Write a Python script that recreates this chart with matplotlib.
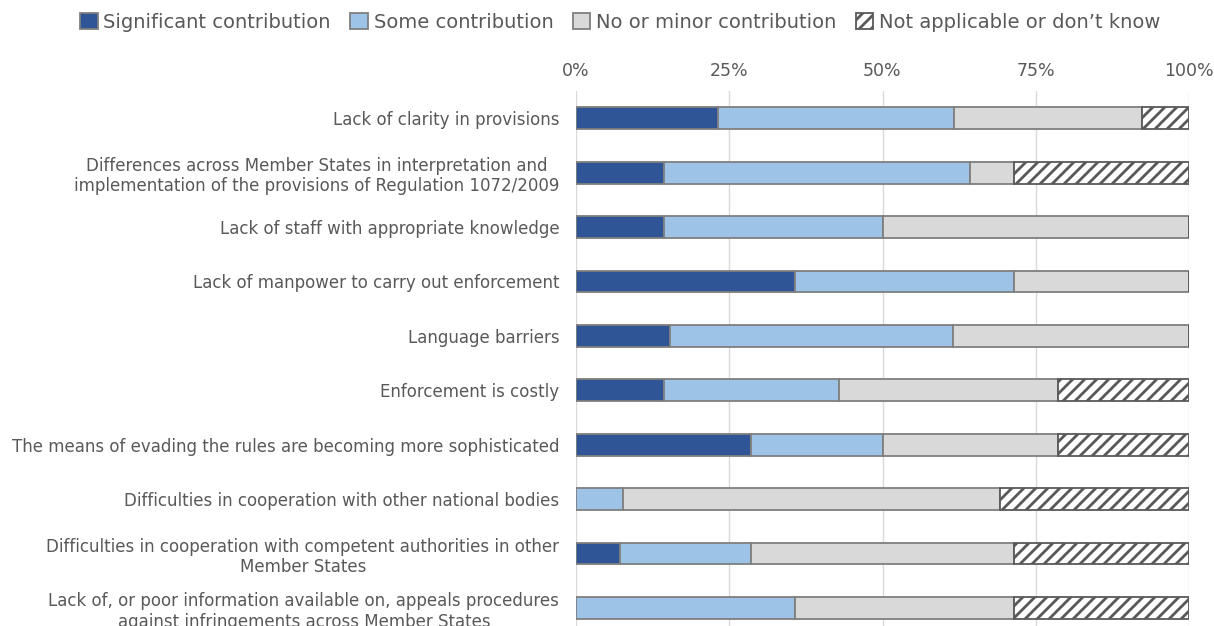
import numpy as np
import matplotlib
matplotlib.use("Agg")
import matplotlib.pyplot as plt
from matplotlib.patches import Patch

categories = [
    "Lack of clarity in provisions",
    "Differences across Member States in interpretation and\nimplementation of the provisions of Regulation 1072/2009",
    "Lack of staff with appropriate knowledge",
    "Lack of manpower to carry out enforcement",
    "Language barriers",
    "Enforcement is costly",
    "The means of evading the rules are becoming more sophisticated",
    "Difficulties in cooperation with other national bodies",
    "Difficulties in cooperation with competent authorities in other\nMember States",
    "Lack of, or poor information available on, appeals procedures\nagainst infringements across Member States",
]

series_names = ["Significant contribution", "Some contribution",
                "No or minor contribution", "Not applicable or don\u2019t know"]

# shares in percent
significant = [23.1, 14.3, 14.3, 35.7, 15.4, 14.3, 28.6, 0.0, 7.1, 0.0]
some = [38.5, 50.0, 35.7, 35.7, 46.1, 28.6, 21.4, 7.7, 21.5, 35.7]
minor = [30.8, 7.1, 50.0, 28.6, 38.5, 35.7, 28.6, 61.5, 42.8, 35.7]
not_applicable = [7.6, 28.6, 0.0, 0.0, 0.0, 21.4, 21.4, 30.8, 28.6, 28.6]

colors = ["#2f5597", "#9dc3e6", "#d9d9d9", "white"]
hatches = [None, None, None, "//"]
edges = ["#7f7f7f", "#7f7f7f", "#7f7f7f", "#595959"]
text_col = "#595959"

# drawn at 72 dpi so the hatch spacing comes out like the original;
# sizes below are given in px-at-100dpi terms and scaled
DPI = 72
S = 100 / DPI
W, H = 1214, 626

plt.rcParams["font.family"] = ["DejaVu Sans"]
plt.rcParams["hatch.linewidth"] = 2.8

fig = plt.figure(figsize=(W / DPI, H / DPI), dpi=DPI)
ax = fig.add_axes([576 / W, 0.0, (1189 - 576) / W, 1 - 91 / H])

y = np.arange(len(categories))
left = np.zeros(len(categories))
for vals, c, h, e, name in zip([significant, some, minor, not_applicable],
                               colors, hatches, edges, series_names):
    vals = np.array(vals)
    ax.barh(y, vals, left=left, height=0.4, color=c, edgecolor=e,
            linewidth=1.3 * S, hatch=h, label=name, zorder=3)
    left += vals

ax.set_xlim(0, 100)
ax.set_ylim(9.33, -0.5)
ax.set_xticks([0, 25, 50, 75, 100])
ax.set_xticklabels(["0%", "25%", "50%", "75%", "100%"])
ax.xaxis.tick_top()
ax.set_yticks(y)
ax.set_yticklabels(categories)
for t in ax.get_yticklabels():
    t.set_multialignment("center")
ax.tick_params(axis="both", length=0, colors=text_col)
ax.tick_params(axis="y", pad=12 * S, labelsize=12 * S)
ax.tick_params(axis="x", pad=8 * S, labelsize=12.5 * S)
ax.grid(axis="x", color="#d9d9d9", linewidth=1 * S, zorder=0)
for s in ax.spines.values():
    s.set_visible(False)

handles = [Patch(facecolor=c, edgecolor=e, hatch=h, linewidth=1.3 * S)
           for c, h, e in zip(colors, hatches, edges)]
fig.legend(handles, series_names, loc="center", bbox_to_anchor=(0.511, 1 - 22 / H),
           ncol=4, frameon=False, fontsize=14 * S, labelcolor=text_col,
           handlelength=0.9, handleheight=0.9, handletextpad=0.3, columnspacing=1.0)

fig.savefig("out.png", dpi=DPI)
